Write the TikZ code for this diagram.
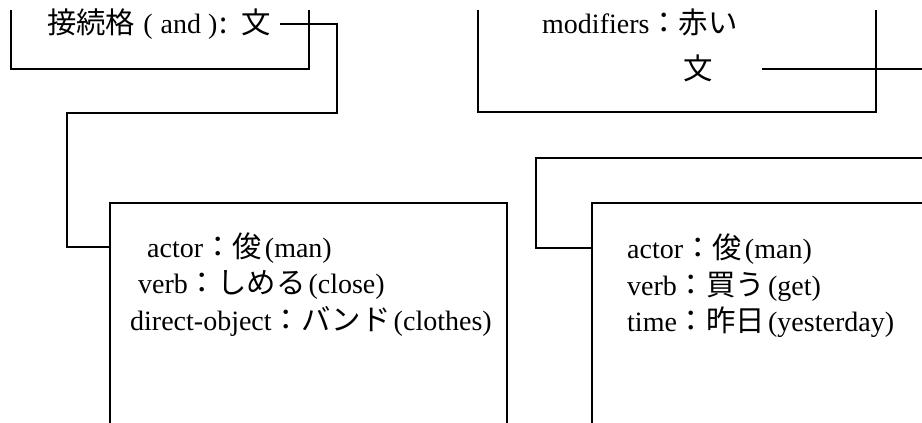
\documentclass[tikz,border=0pt]{standalone}
\usepackage{fontspec}
\setmainfont{Liberation Serif}
\newfontfamily\jp{Noto Sans CJK JP}[Scale=1.05]
\newcommand{\pgap}{\hspace{3pt}}
\begin{document}
\begin{tikzpicture}[x=1pt,y=-1pt,
  frame/.style={line width=1.5pt,line join=miter},
  conn/.style={line width=1.5pt},
  txt/.style={anchor=base west,inner sep=0pt,font=\fontsize{28}{33}\selectfont}]
\useasboundingbox (0,0) rectangle (922,423);
\clip (0,0) rectangle (922,423);
% top-left box
\draw[frame] (11,10) -- (11,69) -- (309,69) -- (309,10);
\node[txt] (tl) at (47,34) {{\jp 接続格}\hspace{8pt}(\hspace{8pt}and\hspace{7pt})\hspace{2pt}{\jp :}\hspace{14pt}{\jp 文}};
% top-right box
\draw[frame] (478,10) -- (478,112) -- (876,112) -- (876,10);
\node[txt] (tr) at (542,33) {modifiers{\jp ：赤い}};
\node[txt] (trs) at (683,79) {\jp 文};
% lower-left box
\draw[frame] (110,423) -- (110,203) -- (507,203) -- (507,423);
\node[txt] (l1) at (147,257) {actor{\jp ：俊}\pgap(man)};
\node[txt] (l2) at (138,293) {verb{\jp ：しめる}\pgap(close)};
\node[txt] (l3) at (130,330) {direct-object{\jp ：バンド}\pgap(clothes)};
% lower-right box
\draw[frame] (592,423) -- (592,203) -- (922,203);
\node[txt] (r1) at (627,258) {actor{\jp ：俊}\pgap(man)};
\node[txt] (r2) at (627,295) {verb{\jp ：買う}\pgap(get)};
\node[txt] (r3) at (627,331) {time{\jp ：昨日}\pgap(yesterday)};
% connectors
\coordinate (llin) at (110,247);
\coordinate (rlin) at (592,248);
\coordinate (tlout) at (280,24);
\coordinate (trout) at (762,69);
\coordinate (rend) at (922,69);
\coordinate (rstart) at (922,158);
\draw[conn] (tlout) -- (337,24) -- (337,113) -- (67,113) -- (67,247) -- (llin);
\draw[conn] (trout) -- (rend);
\draw[conn] (rstart) -- (536,158) -- (536,248) -- (rlin);
\end{tikzpicture}
\end{document}
